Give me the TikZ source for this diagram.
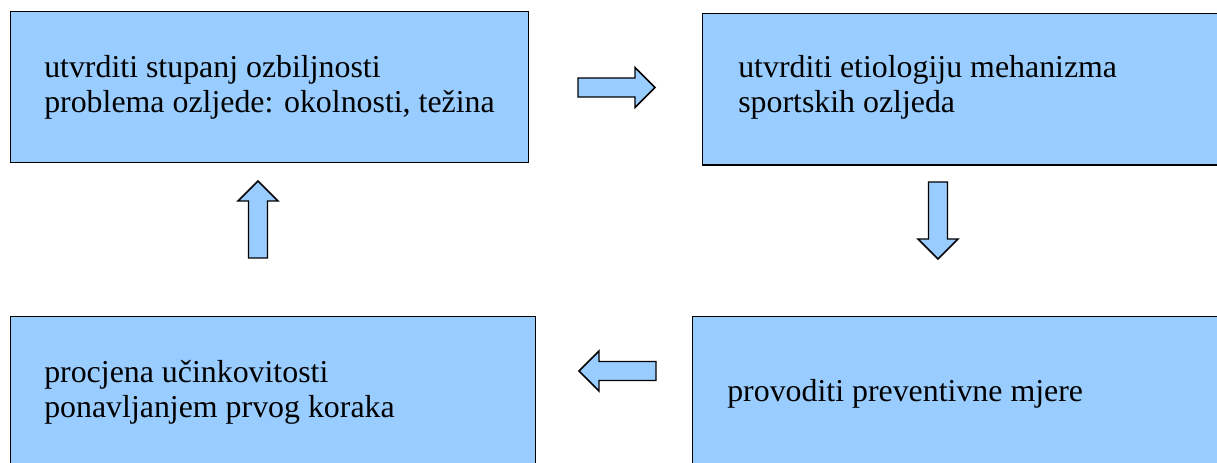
\documentclass[tikz,border=0pt]{standalone}
\usepackage{fontspec}
\setmainfont{Liberation Serif}
\usepackage{tikz}
\usetikzlibrary{positioning}
\definecolor{boxc}{RGB}{153,204,255}
\tikzset{
  stepbox/.style={rectangle,draw=black,fill=boxc,line width=1.1pt,inner sep=0pt,anchor=north west},
  steptext/.style={anchor=base west,align=left,inner sep=0pt,font=\fontsize{23.9}{26.25}\selectfont},
  arrowbody/.style={draw=black,fill=boxc,line width=1.1pt,line join=miter},
  blockarrow/.pic={\draw[arrowbody] (0,-9.5) -- (57,-9.5) -- (57,-20) -- (77,0) -- (57,20) -- (57,9.5) -- (0,9.5) -- cycle;},
}
\begin{document}
\begin{tikzpicture}[x=0.75pt,y=-0.75pt]
  \useasboundingbox (0,0) rectangle (1217,463);
  % four steps of the cycle
  \node[stepbox,minimum width=388.5pt,minimum height=113.5pt] (ident) at (10,10.7) {};
  \node[stepbox,minimum width=396pt,minimum height=113.5pt] (cause) at (702,13) {};
  \node[stepbox,minimum width=403.5pt,minimum height=123pt] (prevent) at (692,316) {};
  \node[stepbox,minimum width=393.75pt,minimum height=123pt] (assess) at (10,316) {};
  % base anchor sits on the last line
  \node[steptext] (identtxt) at (44,112.7) {utvrditi stupanj ozbiljnosti\\problema ozljede: okolnosti, težina};
  \node[steptext] (causetxt) at (738,113) {utvrditi etiologiju mehanizma\\sportskih ozljeda};
  \node[steptext] (preventtxt) at (727,401.7) {provoditi preventivne mjere};
  \node[steptext] (assesstxt) at (44,417) {procjena učinkovitosti\\ponavljanjem prvog koraka};
  % block arrows between steps
  \pic at (578,87.5) {blockarrow};
  \pic[rotate=-90] at (938,182) {blockarrow};
  \pic[rotate=180] at (656,371) {blockarrow};
  \pic[rotate=90] at (258,258) {blockarrow};
\end{tikzpicture}
\end{document}
